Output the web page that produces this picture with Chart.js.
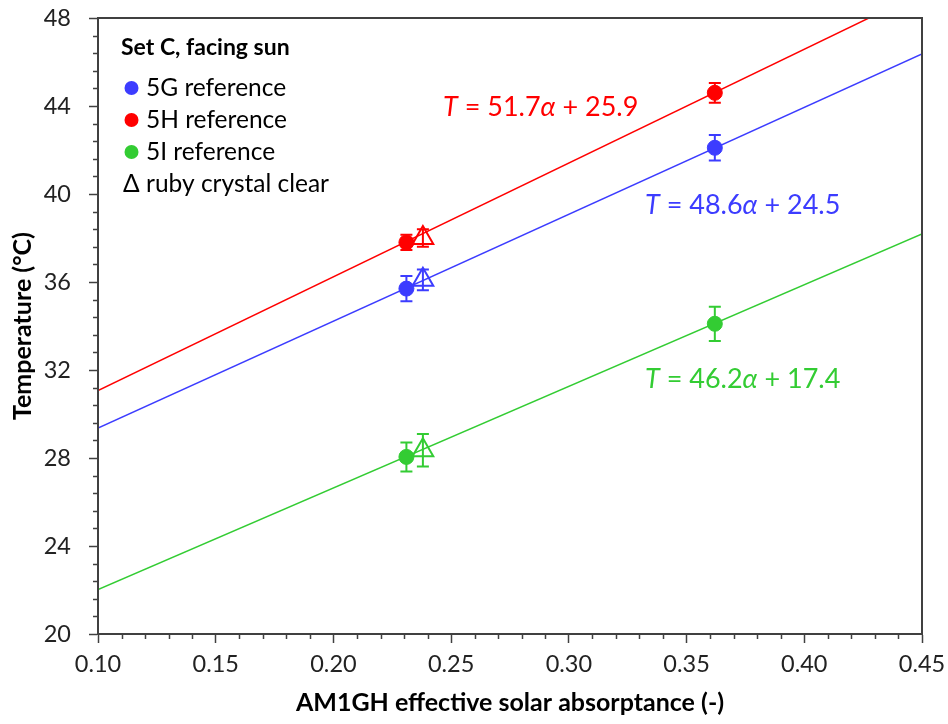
<!DOCTYPE html>
<html>
<head>
<meta charset="utf-8">
<script src="https://cdn.jsdelivr.net/npm/chart.js@4.4.1/dist/chart.umd.min.js"></script>
<style>
  html, body { margin: 0; padding: 0; background: #fff; }
  #wrap { width: 948px; height: 724px; position: relative; }
</style>
</head>
<body>
<div id="wrap"><canvas id="c" width="948" height="724"></canvas></div>
<script>
// Effective solar absorptance of each reference sample
const alphaRef = [0.231, 0.362];
const alphaRuby = [0.238];

// Measured temperatures (°C) and error half-widths
const temp5G = [35.7, 42.1];
const err5G = [0.57, 0.58];
const temp5H = [37.8, 44.6];
const err5H = [0.35, 0.45];
const temp5I = [28.05, 34.1];
const err5I = [0.66, 0.78];

// Ruby crystal clear on each reference
const ruby5G = [36.1];
const rubyErr5G = [0.47];
const ruby5H = [38.0];
const rubyErr5H = [0.4];
const ruby5I = [28.35];
const rubyErr5I = [0.74];

// Linear fits T = slope * alpha + intercept
const fitSlope = { '5G': 48.6, '5H': 51.7, '5I': 46.2 };
const fitIntercept = { '5G': 24.5, '5H': 25.9, '5I': 17.4 };

const xTicks = [0.10, 0.15, 0.20, 0.25, 0.30, 0.35, 0.40, 0.45];
const yTicks = [20, 24, 28, 32, 36, 40, 44, 48];

const BLUE = '#3c3cff', RED = '#ff0000', GREEN = '#33cc33';
const AXIS = '#404040';
const FONT = 'Lato, "Open Sans", sans-serif';

const xMin = xTicks[0], xMax = xTicks[xTicks.length - 1];
function fitLine(key) {
  return [xMin, xMax].map(a => ({ x: a, y: fitSlope[key] * a + fitIntercept[key] }));
}
function pts(xs, ys, es) {
  return xs.map((x, i) => ({ x: x, y: ys[i], e: es[i] }));
}

const lineDs = (key, color) => ({
  type: 'line', data: fitLine(key), borderColor: color, borderWidth: 1.5,
  pointRadius: 0, showLine: true, fill: false, order: 10, tension: 0
});
const dotDs = (data, color) => ({
  data: data, backgroundColor: color, borderColor: color, borderWidth: 1,
  pointRadius: 7.5, pointStyle: 'circle', order: 1, errColor: color
});
const triDs = (data, color) => ({
  data: data, backgroundColor: 'rgba(0,0,0,0)', borderColor: color, borderWidth: 2,
  pointRadius: 12, pointStyle: 'triangle', order: 0, errColor: color
});

// Error bars with caps, minor ticks, plot frame, legend and fit equations
const extras = {
  id: 'extras',
  beforeDatasetsDraw(chart) {
    const ctx = chart.ctx, xs = chart.scales.x, ys = chart.scales.y;
    ctx.save();
    chart.data.datasets.forEach(ds => {
      if (!ds.errColor) return;
      ctx.strokeStyle = ds.errColor;
      ctx.lineWidth = 2;
      ds.data.forEach(p => {
        const px = xs.getPixelForValue(p.x);
        const top = ys.getPixelForValue(p.y + p.e);
        const bot = ys.getPixelForValue(p.y - p.e);
        ctx.beginPath();
        ctx.moveTo(px, top); ctx.lineTo(px, bot);
        ctx.moveTo(px - 6, top); ctx.lineTo(px + 6, top);
        ctx.moveTo(px - 6, bot); ctx.lineTo(px + 6, bot);
        ctx.stroke();
      });
    });
    ctx.restore();
  },
  afterDraw(chart) {
    const ctx = chart.ctx, xs = chart.scales.x, ys = chart.scales.y, a = chart.chartArea;
    ctx.save();
    ctx.strokeStyle = AXIS;
    ctx.lineWidth = 1.5;
    // minor ticks
    ctx.beginPath();
    for (let i = 0; i < xTicks.length - 1; i++) {
      for (let k = 1; k < 5; k++) {
        const v = xTicks[i] + (xTicks[i + 1] - xTicks[i]) * k / 5;
        const px = Math.round(xs.getPixelForValue(v)) + 0.5;
        ctx.moveTo(px, a.bottom); ctx.lineTo(px, a.bottom + 5);
      }
    }
    for (let i = 0; i < yTicks.length - 1; i++) {
      for (let k = 1; k < 5; k++) {
        const v = yTicks[i] + (yTicks[i + 1] - yTicks[i]) * k / 5;
        const py = Math.round(ys.getPixelForValue(v)) + 0.5;
        ctx.moveTo(a.left, py); ctx.lineTo(a.left - 5, py);
      }
    }
    ctx.stroke();
    // frame
    ctx.lineWidth = 2;
    ctx.strokeRect(a.left, a.top, a.right - a.left, a.bottom - a.top);

    // legend
    ctx.textBaseline = 'middle';
    ctx.fillStyle = '#000';
    ctx.font = 'bold 23px ' + FONT;
    ctx.fillText('Set C, facing sun', 121, 48);
    ctx.font = '24.5px ' + FONT;
    const items = [['5G reference', BLUE, 88], ['5H reference', RED, 120], ['5I reference', GREEN, 152]];
    items.forEach(([t, c, y]) => {
      ctx.fillStyle = c;
      ctx.beginPath(); ctx.arc(131.5, y, 7, 0, Math.PI * 2); ctx.fill();
      ctx.fillStyle = '#000';
      ctx.fillText(t, 146, y);
    });
    ctx.fillStyle = '#000';
    ctx.fillText('\u0394', 123, 184);
    ctx.fillText('ruby crystal clear', 146, 184);

    // fit equations
    const eq = (key, color, x, y) => {
      const parts = [
        ['T', 'italic '], [' = ' + fitSlope[key].toFixed(1), ''], ['\u03b1', 'italic '],
        [' + ' + fitIntercept[key].toFixed(1), '']
      ];
      ctx.fillStyle = color;
      let cx = x;
      parts.forEach(([s, st]) => {
        ctx.font = st + '27px ' + FONT;
        ctx.fillText(s, cx, y);
        cx += ctx.measureText(s).width;
      });
    };
    eq('5H', RED, 443, 107);
    eq('5G', BLUE, 645, 205);
    eq('5I', GREEN, 645, 379);
    ctx.restore();
  }
};

new Chart(document.getElementById('c'), {
  type: 'scatter',
  data: {
    datasets: [
      lineDs('5G', BLUE), lineDs('5H', RED), lineDs('5I', GREEN),
      dotDs(pts(alphaRef, temp5G, err5G), BLUE),
      dotDs(pts(alphaRef, temp5H, err5H), RED),
      dotDs(pts(alphaRef, temp5I, err5I), GREEN),
      triDs(pts(alphaRuby, ruby5G, rubyErr5G), BLUE),
      triDs(pts(alphaRuby, ruby5H, rubyErr5H), RED),
      triDs(pts(alphaRuby, ruby5I, rubyErr5I), GREEN)
    ]
  },
  options: {
    responsive: false,
    animation: false,
    layout: { padding: 0 },
    plugins: { legend: { display: false }, tooltip: { enabled: false } },
    scales: {
      x: {
        type: 'linear', min: xMin, max: xMax,
        afterBuildTicks: s => { s.ticks = xTicks.map(v => ({ value: v })); },
        ticks: { callback: v => v.toFixed(2), color: '#222', font: { size: 23.5, family: FONT }, padding: 7, maxRotation: 0 },
        grid: { drawOnChartArea: false, drawTicks: true, tickLength: 9, tickColor: AXIS, tickWidth: 1.5 },
        border: { color: AXIS, width: 2 },
        title: { display: true, text: 'AM1GH effective solar absorptance (-)', color: '#000', font: { size: 25, weight: 'bold', family: FONT }, padding: { top: 4, bottom: 6 } },
        afterFit: s => { s.height = 90; s.paddingLeft = 0; s.paddingRight = 26; }
      },
      y: {
        type: 'linear', min: yTicks[0], max: yTicks[yTicks.length - 1],
        afterBuildTicks: s => { s.ticks = yTicks.map(v => ({ value: v })); },
        ticks: { color: '#222', font: { size: 23.5, family: FONT }, padding: 18 },
        grid: { drawOnChartArea: false, drawTicks: true, tickLength: 9, tickColor: AXIS, tickWidth: 1.5 },
        border: { color: AXIS, width: 2 },
        title: { display: true, text: 'Temperature (°C)', color: '#000', font: { size: 25, weight: 'bold', family: FONT }, padding: { top: 8, bottom: 4 } },
        afterFit: s => { s.width = 98; s.paddingTop = 18; s.paddingBottom = 0; }
      }
    }
  },
  plugins: [extras]
});
</script>
</body>
</html>
